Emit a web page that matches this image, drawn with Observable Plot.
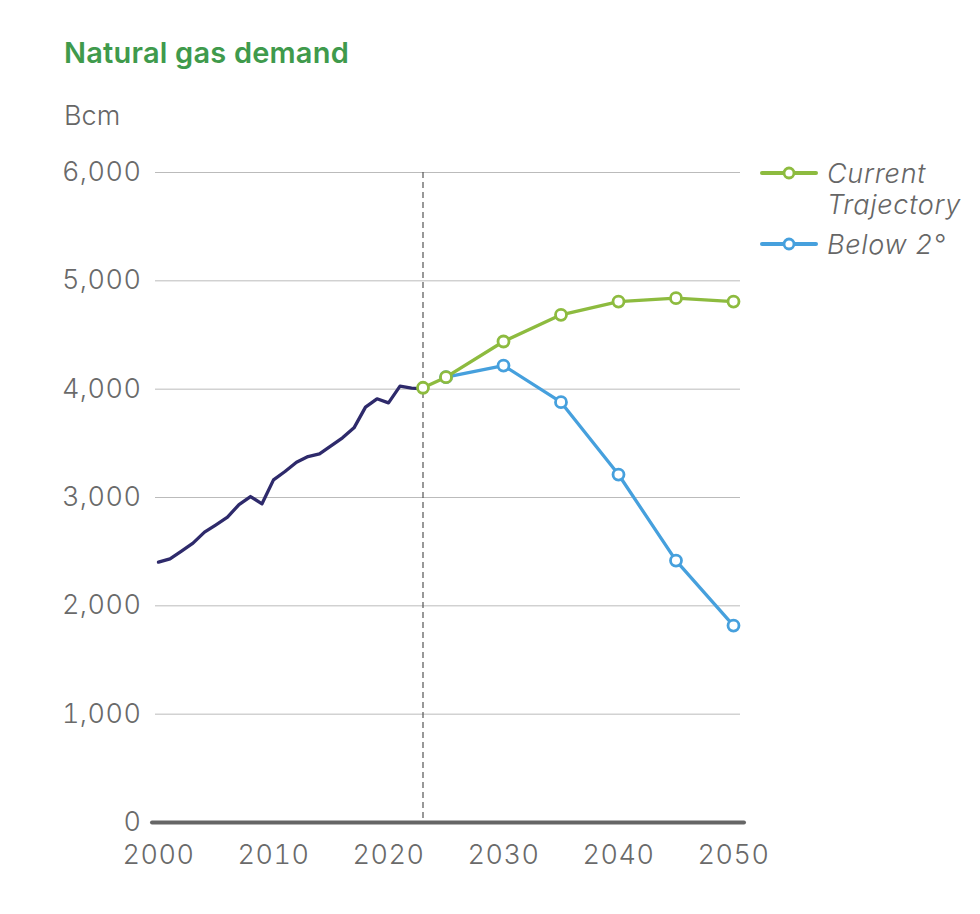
<!DOCTYPE html>
<html>
<head>
<meta charset="utf-8">
<script src="https://cdn.jsdelivr.net/npm/d3@7"></script>
<script src="https://cdn.jsdelivr.net/npm/@observablehq/plot@0.6"></script>
<style>
  body { margin: 0; background: #fff; font-family: Inter, "Open Sans", sans-serif; }
  #wrap { position: relative; width: 980px; height: 914px; }
  #title { position: absolute; left: 64px; top: 36px; font-size: 29px; font-weight: 600; color: #3f9a4c; line-height: 34px; letter-spacing: 0.2px; }
  #unit { position: absolute; left: 64px; top: 99px; font-size: 27px; color: #666; font-weight: 300; line-height: 34px; }
  #chart { position: absolute; left: 0; top: 140px; }
  #legend { position: absolute; left: 760px; top: 158px; font-size: 27px; font-style: italic; color: #666; font-weight: 300; }
  .item { display: flex; align-items: flex-start; margin-bottom: 9px; }
  .item svg { flex: none; margin-top: 4px; }
  .item span { margin-left: 9px; line-height: 31px; letter-spacing: 0.7px; }
</style>
</head>
<body>
<div id="wrap">
  <div id="title">Natural gas demand</div>
  <div id="unit">Bcm</div>
  <div id="chart"></div>
  <div id="legend"></div>
</div>
<script>
// Historical demand (Bcm)
const histYears = [2000,2001,2002,2003,2004,2005,2006,2007,2008,2009,2010,2011,2012,2013,2014,2015,2016,2017,2018,2019,2020,2021,2022,2023];
const histValues = [2403,2434,2505,2579,2680,2748,2818,2935,3009,2942,3163,3240,3326,3378,3403,3477,3551,3643,3834,3911,3874,4028,4009,4003];

// Scenario projections
const currentYears = [2023,2025,2030,2035,2040,2045,2050];
const currentValues = [4013,4111,4440,4686,4809,4840,4809];
const below2Years = [2025,2030,2035,2040,2045,2050];
const below2Values = [4111,4218,3880,3212,2418,1818];

const seriesNames = ["Current Trajectory", "Below 2°"];
const seriesColors = ["#8dbb3f", "#46a0dd"];
const histColor = "#2e2a6b";

const yTicks = [0,1000,2000,3000,4000,5000,6000];
const xTicks = [2000,2010,2020,2030,2040,2050];
const markerYear = 2023;

const hist = histYears.map((y,i) => ({year: y, value: histValues[i]}));
const cur = currentYears.map((y,i) => ({year: y, value: currentValues[i]}));
const b2 = below2Years.map((y,i) => ({year: y, value: below2Values[i]}));

const fmt = d3.format(",");

const plot = Plot.plot({
  width: 980,
  height: 742,
  marginLeft: 155,
  marginRight: 240,
  marginTop: 32,
  marginBottom: 60,
  style: { fontFamily: "Inter, sans-serif", fontSize: "27px", color: "#666", background: "transparent" },
  x: { domain: [2000, 2050], insetLeft: 3, insetRight: 7, ticks: xTicks, tickFormat: d => String(d), label: null },
  y: { domain: [0, 6000], ticks: yTicks, tickFormat: fmt, label: null },
  marks: [
    Plot.gridY(yTicks.filter(d => d > 0), { stroke: "#bbbbbb", strokeOpacity: 1, strokeWidth: 1 }),
    Plot.axisY({ ticks: yTicks, tickFormat: fmt, tickSize: 0, tickPadding: 14, fill: "#6a6a6a", fontWeight: 300, label: null }),
    Plot.axisX({ ticks: xTicks, tickFormat: d => String(d), tickSize: 0, tickPadding: 22, fill: "#6a6a6a", fontWeight: 300, label: null }),
    Plot.ruleX([markerYear], { stroke: "#555", strokeWidth: 1.2, strokeDasharray: "6,4" }),
    Plot.ruleY([0], { stroke: "#666", strokeWidth: 4, strokeLinecap: "round", insetLeft: -3, insetRight: -4 }),
    Plot.line(hist, { x: "year", y: "value", stroke: histColor, strokeWidth: 3.3 }),
    Plot.line(b2, { x: "year", y: "value", stroke: seriesColors[1], strokeWidth: 3.3 }),
    Plot.dot(b2, { x: "year", y: "value", r: 5.5, stroke: seriesColors[1], strokeWidth: 2.8, fill: "white" }),
    Plot.line(cur, { x: "year", y: "value", stroke: seriesColors[0], strokeWidth: 3.3 }),
    Plot.dot(cur, { x: "year", y: "value", r: 5.5, stroke: seriesColors[0], strokeWidth: 2.8, fill: "white" })
  ]
});
plot.querySelectorAll("text").forEach(t => t.setAttribute("letter-spacing", "0.5"));
document.getElementById("chart").appendChild(plot);

// Legend
const legend = document.getElementById("legend");
const labelLines = [["Current", "Trajectory"], ["Below 2°"]];
seriesNames.forEach((name, i) => {
  const item = document.createElement("div");
  item.className = "item";
  item.innerHTML = `<svg width="58" height="22"><line x1="2" y1="11" x2="56" y2="11" stroke="${seriesColors[i]}" stroke-width="4" stroke-linecap="round"/><circle cx="29" cy="11" r="5" fill="white" stroke="${seriesColors[i]}" stroke-width="2.8"/></svg><span>${labelLines[i].join("<br>")}</span>`;
  legend.appendChild(item);
});
</script>
</body>
</html>
